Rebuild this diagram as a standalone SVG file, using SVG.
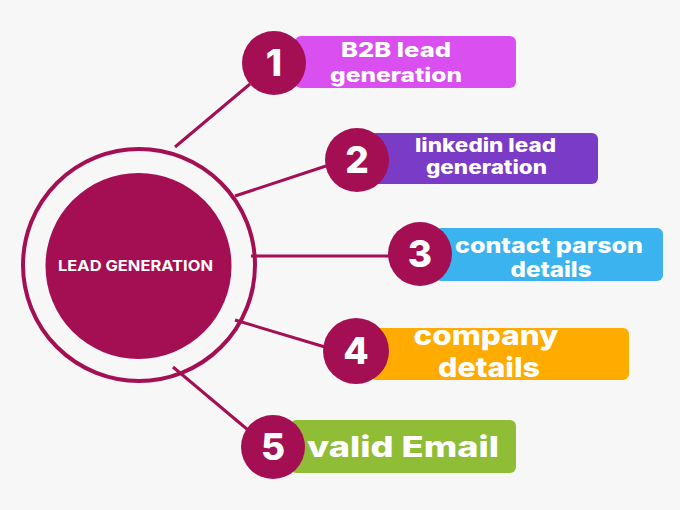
<svg xmlns="http://www.w3.org/2000/svg" width="680" height="510" viewBox="0 0 680 510">
<style>
.ln{stroke:#a30f52;stroke-width:3;fill:none;stroke-linecap:butt}
.badge{fill:#a30f52}
.num{font-family:Inter,"Liberation Sans",sans-serif;font-weight:800;font-size:37px;fill:#fff;text-anchor:middle}
.lbl{font-family:Inter,"Liberation Sans",sans-serif;font-weight:800;fill:#fff;text-anchor:middle}
</style>
<rect width="680" height="510" fill="#f7f7f7"/>
<g id="connectors">
<line class="ln" x1="175" y1="147" x2="250" y2="84"/>
<line class="ln" x1="235" y1="196" x2="326" y2="166"/>
<line class="ln" x1="251" y1="256" x2="390" y2="256"/>
<line class="ln" x1="235" y1="320" x2="325" y2="347"/>
<line class="ln" x1="173" y1="367" x2="248" y2="430"/>
</g>
<g id="center">
<circle cx="139" cy="265" r="116" fill="none" stroke="#a30f52" stroke-width="4"/>
<circle cx="138.5" cy="266" r="93" fill="#a30f52"/>
<text x="135.5" y="270.5" font-family="Inter,'Liberation Sans',sans-serif" font-weight="700" font-size="15" fill="#fff" text-anchor="middle" textLength="155" lengthAdjust="spacingAndGlyphs">LEAD GENERATION</text>
</g>
<g id="item1">
<rect x="295" y="36" width="221" height="52" rx="6" fill="#d94ff0"/>
<circle class="badge" cx="274" cy="63" r="32"/>
<text class="num" x="274" y="76">1</text>
<text class="lbl" font-size="20" x="396" y="57" textLength="110" lengthAdjust="spacingAndGlyphs">B2B lead</text>
<text class="lbl" font-size="20" x="396" y="81.5" textLength="132" lengthAdjust="spacingAndGlyphs">generation</text>
</g>
<g id="item2">
<rect x="370" y="133" width="228" height="51" rx="6" fill="#7a3bc7"/>
<circle class="badge" cx="357" cy="160" r="32"/>
<text class="num" x="357" y="173">2</text>
<text class="lbl" font-size="19" x="485.5" y="151.5" textLength="141" lengthAdjust="spacingAndGlyphs">linkedin lead</text>
<text class="lbl" font-size="19" x="486.5" y="174" textLength="121" lengthAdjust="spacingAndGlyphs">generation</text>
</g>
<g id="item3">
<rect x="435" y="228" width="228" height="53" rx="6" fill="#3bb3ee"/>
<circle class="badge" cx="420" cy="254" r="32"/>
<text class="num" x="420" y="267">3</text>
<text class="lbl" font-size="21" x="549" y="253" textLength="188" lengthAdjust="spacingAndGlyphs">contact parson</text>
<text class="lbl" font-size="21" x="551" y="277" textLength="81" lengthAdjust="spacingAndGlyphs">details</text>
</g>
<g id="item4">
<rect x="370" y="328" width="259" height="52" rx="6" fill="#ffab00"/>
<circle class="badge" cx="356" cy="351" r="33"/>
<text class="num" x="356" y="364">4</text>
<text class="lbl" font-size="27" x="486" y="345" textLength="145" lengthAdjust="spacingAndGlyphs">company</text>
<text class="lbl" font-size="27" x="489" y="377" textLength="102" lengthAdjust="spacingAndGlyphs">details</text>
</g>
<g id="item5">
<rect x="290" y="420" width="226" height="53" rx="6" fill="#8fbd36"/>
<circle class="badge" cx="273" cy="447" r="32"/>
<text class="num" x="273" y="460">5</text>
<text class="lbl" font-size="29" x="403" y="457" textLength="192" lengthAdjust="spacingAndGlyphs">valid Email</text>
</g>
</svg>
